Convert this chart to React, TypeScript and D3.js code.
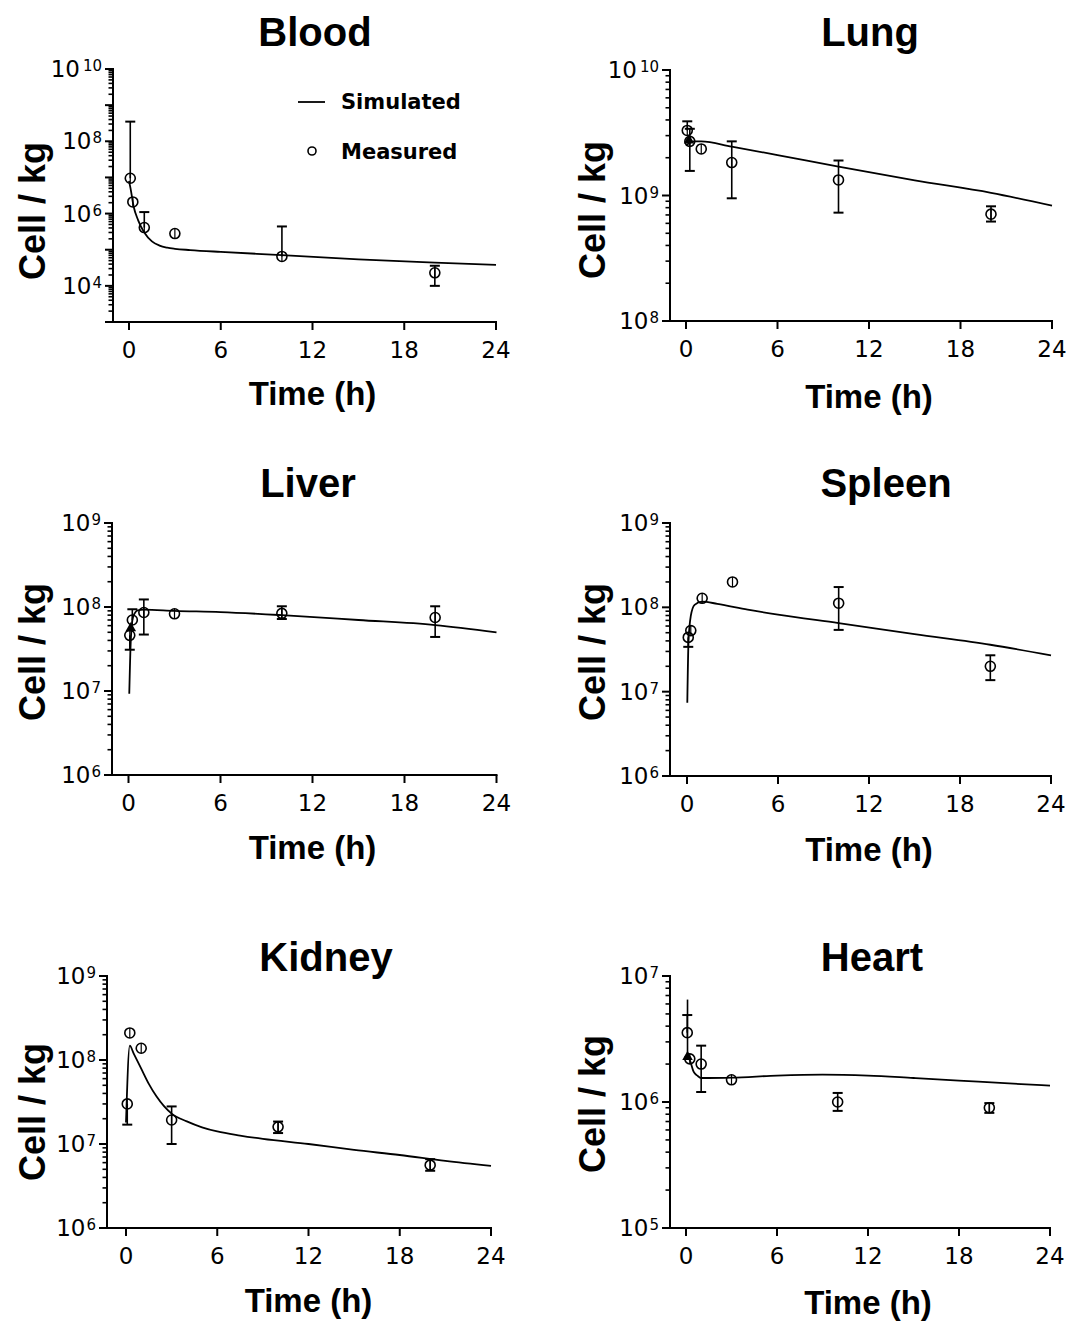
import React from "react";
import * as d3 from "d3";

// sampling times of the measured points (h)
const times = [0.083, 0.25, 1, 3, 10, 20];

// measured values (cell / kg) with error bar ends (null = no bar on that side)
const bloodMeasured = [9.5e6, 2.1e6, 4.1e5, 2.8e5, 6.5e4, 2.3e4];
const bloodLow = [null, null, null, null, null, 1.0e4];
const bloodHigh = [3.5e8, null, 1.1e6, null, 4.4e5, 3.6e4];

const lungMeasured = [3.3e9, 2.7e9, 2.35e9, 1.83e9, 1.33e9, 7.1e8];
const lungLow = [null, 1.57e9, null, 9.5e8, 7.3e8, 6.2e8];
const lungHigh = [3.9e9, 3.4e9, null, 2.7e9, 1.9e9, 8.2e8];

const liverMeasured = [4.6e7, 7.0e7, 8.6e7, 8.3e7, 8.4e7, 7.5e7];
const liverLow = [3.1e7, null, 4.7e7, null, 7.2e7, 4.4e7];
const liverHigh = [null, 9.4e7, 1.23e8, null, 1.02e8, 1.02e8];

const spleenMeasured = [4.4e7, 5.3e7, 1.28e8, 2.0e8, 1.12e8, 2.0e7];
const spleenLow = [3.4e7, null, null, null, 5.4e7, 1.37e7];
const spleenHigh = [null, null, null, null, 1.74e8, 2.7e7];

const kidneyMeasured = [3.0e7, 2.1e8, 1.38e8, 1.93e7, 1.6e7, 5.6e6];
const kidneyLow = [1.7e7, null, null, 1.0e7, 1.35e7, 4.8e6];
const kidneyHigh = [null, null, null, 2.8e7, 1.85e7, 6.6e6];

const heartMeasured = [3.55e6, 2.2e6, 2.0e6, 1.5e6, 1.0e6, 9.0e5];
const heartLow = [null, null, 1.2e6, null, 8.5e5, 8.2e5];
const heartHigh = [4.9e6, null, 2.8e6, null, 1.18e6, 9.8e5];

// filled triangle markers seen at the earliest time in some panels
const lungTriangle = { t: 0.2, v: 2.75e9 };
const liverTriangle = { t: 0.15, v: 5.6e7 };
const heartTriangle = { t: 0.1, v: 2.28e6, high: 6.5e6 };

// simulated curves
const bloodSimT = [0, 0.1, 0.3, 0.6, 1, 1.5, 2, 2.5, 3, 4, 6, 10, 15, 20, 24];
const bloodSimV = [8e6, 5e6, 1.6e6, 6.5e5, 3.0e5, 1.7e5, 1.3e5, 1.14e5, 1.06e5, 9.8e4, 8.7e4, 7.1e4, 5.4e4, 4.4e4, 3.8e4];

const lungSimT = [0, 0.5, 1, 3, 6, 10, 15, 20, 24];
const lungSimV = [2.5e9, 2.7e9, 2.7e9, 2.45e9, 2.1e9, 1.7e9, 1.32e9, 1.05e9, 8.3e8];

const liverSimT = [0.05, 0.15, 0.3, 0.6, 1, 3, 6, 10, 15, 20, 24];
const liverSimV = [9.3e6, 4e7, 7.6e7, 9.1e7, 9.3e7, 9.0e7, 8.7e7, 8.0e7, 7.0e7, 6.1e7, 5.0e7];

const spleenSimT = [0.02, 0.1, 0.25, 0.5, 1, 2, 4, 6, 10, 15, 20, 24];
const spleenSimV = [7.4e6, 4e7, 7.9e7, 1.07e8, 1.17e8, 1.1e8, 9.4e7, 8.2e7, 6.5e7, 4.8e7, 3.6e7, 2.7e7];

const kidneySimT = [0, 0.25, 0.5, 1, 1.5, 2, 3, 4, 5, 6, 7.5, 9, 12, 15, 18, 21, 24];
const kidneySimV = [1.8e7, 1.48e8, 1.2e8, 7.9e7, 5.2e7, 3.7e7, 2.3e7, 1.86e7, 1.58e7, 1.41e7, 1.26e7, 1.15e7, 1.0e7, 8.5e6, 7.4e6, 6.3e6, 5.5e6];

const heartSimT = [0, 0.25, 0.5, 0.75, 1, 1.5, 3, 6, 9, 12, 15, 18, 21, 24];
const heartSimV = [2.3e6, 2.15e6, 1.74e6, 1.62e6, 1.55e6, 1.55e6, 1.56e6, 1.62e6, 1.65e6, 1.62e6, 1.55e6, 1.48e6, 1.41e6, 1.35e6];

const xTicks = [0, 6, 12, 18, 24];

const titleFont = "'Liberation Sans', Arial, sans-serif";
const tickFont = "'DejaVu Sans', sans-serif";

const panels = [
  { name: "Blood", m: bloodMeasured, lo: bloodLow, hi: bloodHigh, simT: bloodSimT, simV: bloodSimV, tri: null,
    axisX: 113, x0: 129, x24: 496, top: 69, bottom: 322, yMin: 1e3, yMax: 1e10, labels: [10, 8, 6, 4],
    titleX: 315, titleY: 46, ylabX: 45, ylabY: 211, tickY: 358, timeY: 405, legend: true },
  { name: "Lung", m: lungMeasured, lo: lungLow, hi: lungHigh, simT: lungSimT, simV: lungSimV, tri: lungTriangle,
    axisX: 670, x0: 686, x24: 1052, top: 70, bottom: 321, yMin: 1e8, yMax: 1e10, labels: [10, 9, 8],
    titleX: 870, titleY: 46, ylabX: 605, ylabY: 210, tickY: 357, timeY: 408 },
  { name: "Liver", m: liverMeasured, lo: liverLow, hi: liverHigh, simT: liverSimT, simV: liverSimV, tri: liverTriangle,
    axisX: 112, x0: 128.5, x24: 496.5, top: 523, bottom: 775, yMin: 1e6, yMax: 1e9, labels: [9, 8, 7, 6],
    titleX: 308, titleY: 497, ylabX: 45, ylabY: 652, tickY: 811, timeY: 859 },
  { name: "Spleen", m: spleenMeasured, lo: spleenLow, hi: spleenHigh, simT: spleenSimT, simV: spleenSimV, tri: null,
    axisX: 670, x0: 687, x24: 1051, top: 523, bottom: 776, yMin: 1e6, yMax: 1e9, labels: [9, 8, 7, 6],
    titleX: 886, titleY: 497, ylabX: 605, ylabY: 652, tickY: 812, timeY: 861 },
  { name: "Kidney", m: kidneyMeasured, lo: kidneyLow, hi: kidneyHigh, simT: kidneySimT, simV: kidneySimV, tri: null,
    axisX: 107, x0: 126, x24: 491, top: 976, bottom: 1228, yMin: 1e6, yMax: 1e9, labels: [9, 8, 7, 6],
    titleX: 326, titleY: 971, ylabX: 45, ylabY: 1112, tickY: 1264, timeY: 1312 },
  { name: "Heart", m: heartMeasured, lo: heartLow, hi: heartHigh, simT: heartSimT, simV: heartSimV, tri: heartTriangle,
    axisX: 670, x0: 686, x24: 1050, top: 976, bottom: 1228, yMin: 1e5, yMax: 1e7, labels: [7, 6, 5],
    titleX: 872, titleY: 971, ylabX: 605, ylabY: 1104, tickY: 1264, timeY: 1314 },
];

function Panel({ p }: { p: any }) {
  const x = d3.scaleLinear().domain([0, 24]).range([p.x0, p.x24]);
  const y = d3.scaleLog().domain([p.yMin, p.yMax]).range([p.bottom, p.top]);

  const eMin = Math.round(Math.log10(p.yMin));
  const eMax = Math.round(Math.log10(p.yMax));
  const majors = d3.range(eMin, eMax + 1);
  const minors: number[] = [];
  for (let e = eMin; e < eMax; e++) {
    for (let k = 2; k <= 9; k++) minors.push(k * Math.pow(10, e));
  }

  const sim = p.simT.map((t: number, i: number) => [t, p.simV[i]]);
  const line = d3
    .line<number[]>()
    .x((d) => x(d[0]))
    .y((d) => y(d[1]))
    .curve(d3.curveMonotoneX);

  const capW = 5;
  const tri = d3.symbol().type(d3.symbolTriangle).size(48)();

  return (
    <g>
      <text x={p.titleX} y={p.titleY} textAnchor="middle" fontFamily={titleFont} fontWeight="bold" fontSize={40}>
        {p.name}
      </text>
      <text
        transform={`translate(${p.ylabX},${p.ylabY}) rotate(-90)`}
        textAnchor="middle"
        fontFamily={titleFont}
        fontWeight="bold"
        fontSize={36}
      >
        Cell / kg
      </text>
      <text x={(p.x0 + p.x24) / 2} y={p.timeY} textAnchor="middle" fontFamily={titleFont} fontWeight="bold" fontSize={33}>
        Time (h)
      </text>

      {/* axes */}
      <line x1={p.axisX} x2={p.axisX} y1={p.top - 1} y2={p.bottom + 1} stroke="#000" strokeWidth={2} />
      <line x1={p.axisX - 1} x2={x(24) + 1} y1={p.bottom} y2={p.bottom} stroke="#000" strokeWidth={2} />

      {majors.map((e) => (
        <line key={"M" + e} x1={p.axisX - 8} x2={p.axisX} y1={y(Math.pow(10, e))} y2={y(Math.pow(10, e))} stroke="#000" strokeWidth={2} />
      ))}
      {minors.map((v, i) => (
        <line key={"m" + i} x1={p.axisX - 4.5} x2={p.axisX} y1={y(v)} y2={y(v)} stroke="#000" strokeWidth={1.6} />
      ))}
      {p.labels.map((e: number) => (
        <text key={"L" + e} x={p.axisX - 11} y={y(Math.pow(10, e)) + 8} textAnchor="end" fontFamily={tickFont} fontSize={23}>
          10
          <tspan dx={e >= 10 ? 3 : 1} dy={-6} fontSize={15}>
            {e}
          </tspan>
        </text>
      ))}

      {xTicks.map((t) => (
        <g key={"x" + t}>
          <line x1={x(t)} x2={x(t)} y1={p.bottom} y2={p.bottom + 8} stroke="#000" strokeWidth={2} />
          <text x={x(t)} y={p.tickY} textAnchor="middle" fontFamily={tickFont} fontSize={23}>
            {t}
          </text>
        </g>
      ))}

      {/* simulated */}
      <path d={line(sim) || ""} fill="none" stroke="#000" strokeWidth={1.8} />

      {/* measured */}
      {times.map((t, i) => {
        const v = p.m[i];
        const lo = p.lo[i];
        const hi = p.hi[i];
        const cx = x(t);
        return (
          <g key={"p" + i} stroke="#000" fill="none" strokeWidth={1.6}>
            {(lo !== null || hi !== null) && (
              <line x1={cx} x2={cx} y1={y(lo ?? v)} y2={y(hi ?? v)} />
            )}
            {lo !== null && <line x1={cx - capW} x2={cx + capW} y1={y(lo)} y2={y(lo)} strokeWidth={2} />}
            {hi !== null && <line x1={cx - capW} x2={cx + capW} y1={y(hi)} y2={y(hi)} strokeWidth={2} />}
            <circle cx={cx} cy={y(v)} r={5} />
            <line x1={cx} x2={cx} y1={y(v) - 5} y2={y(v) + 5} strokeWidth={1.2} />
          </g>
        );
      })}

      {p.tri && (
        <g>
          {p.tri.high && (
            <line x1={x(p.tri.t)} x2={x(p.tri.t)} y1={y(p.tri.v)} y2={y(p.tri.high)} stroke="#000" strokeWidth={1.6} />
          )}
          <path d={tri || ""} transform={`translate(${x(p.tri.t)},${y(p.tri.v)})`} fill="#000" />
        </g>
      )}

      {p.legend && (
        <g fontFamily={tickFont} fontWeight="bold" fontSize={21}>
          <line x1={298} x2={325} y1={102} y2={102} stroke="#000" strokeWidth={1.8} />
          <text x={341} y={109}>Simulated</text>
          <circle cx={312} cy={151} r={4} fill="none" stroke="#000" strokeWidth={1.6} />
          <text x={341} y={159}>Measured</text>
        </g>
      )}
    </g>
  );
}

export default function App() {
  return (
    <svg
      width={1069}
      height={1322}
      style={{ position: "absolute", left: 0, top: 0, background: "#fff" }}
    >
      <rect width={1069} height={1322} fill="#fff" />
      {panels.map((p) => (
        <Panel key={p.name} p={p} />
      ))}
    </svg>
  );
}
